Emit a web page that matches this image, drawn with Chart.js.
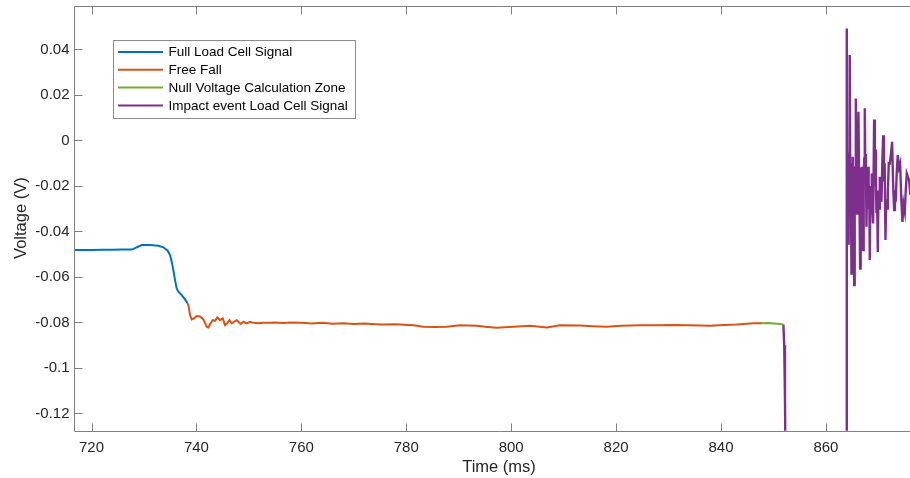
<!DOCTYPE html>
<html><head><meta charset="utf-8">
<script src="https://cdn.jsdelivr.net/npm/chart.js@4"></script>
<style>html,body{margin:0;padding:0;background:#fff;overflow:hidden;width:910px;height:478px}#c{display:block}</style>
</head><body>
<canvas id="c" width="924" height="478"></canvas>
<script>
// ---- data (Time in ms, Voltage in V) ----
const fullLoadTime = [716.7,718,720,722,724,726,727.66,728.61,729.56,731.15,732.74,733.7,734.52,734.97,735.28,735.6,735.92,736.24,736.56,737.19,737.83,738.27];
const fullLoadVolt = [-0.0482,-0.0482,-0.0482,-0.0481,-0.0481,-0.048,-0.048,-0.047,-0.046,-0.046,-0.0463,-0.047,-0.0485,-0.0504,-0.0533,-0.057,-0.0614,-0.0651,-0.0665,-0.068,-0.0699,-0.0714];

const freeFallTime = [738.27,738.46,738.78,739.1,739.54,740.05,740.69,741.32,741.96,742.28,742.6,743.1,743.55,743.99,744.5,745.01,745.46,745.9,746.28,746.73,747.17,747.68,748,748.44,748.95,749.59,750.22,750.86,751.81,752.76,754.03,755,756.5,758,760,762,764,766,768,770,772,775,778,781.35,783.26,785.5,787.7,790.26,793.44,795.5,797.25,800.43,803.6,806.8,809.3,813.1,815.5,818.2,821,824.6,827.5,830.9,834,837.9,840.5,843,846.2,847.8];
const freeFallVolt = [-0.0714,-0.0724,-0.0768,-0.0787,-0.0782,-0.0772,-0.0774,-0.0787,-0.0819,-0.0822,-0.0807,-0.079,-0.0793,-0.0778,-0.079,-0.0782,-0.0812,-0.0802,-0.079,-0.0804,-0.0797,-0.079,-0.0797,-0.0807,-0.0797,-0.0804,-0.0797,-0.0802,-0.0804,-0.0802,-0.0802,-0.08,-0.0803,-0.08,-0.0802,-0.0805,-0.0802,-0.0806,-0.0804,-0.0807,-0.0805,-0.0809,-0.0808,-0.0812,-0.0819,-0.082,-0.0819,-0.0812,-0.0815,-0.082,-0.0824,-0.0819,-0.0815,-0.0822,-0.0813,-0.0814,-0.0817,-0.0819,-0.0815,-0.0812,-0.0812,-0.0811,-0.0813,-0.0815,-0.0811,-0.0809,-0.0804,-0.0804];

const nullZoneTime = [847.8,849,850.2,851.3,851.9];
const nullZoneVolt = [-0.0804,-0.0803,-0.0805,-0.0807,-0.0809];

const impactTime = [851.9,852.05,852.2,852.35,863.85,863.98,864.06,864.14,864.23,864.34,864.44,864.55,864.65,864.74,864.87,864.96,865.04,865.12,865.21,865.29,865.38,865.49,865.59,865.7,865.79,865.87,865.95,866.03,866.11,866.2,866.31,866.41,866.52,866.63,866.73,866.84,866.93,867.01,867.09,867.2,867.3,867.41,867.52,867.62,867.73,867.84,867.94,868.05,868.15,868.26,868.36,868.49,868.61,868.74,868.87,869,869.19,869.32,869.4,869.51,869.64,869.76,869.89,870.02,870.14,870.27,870.43,870.59,870.75,870.91,871.05,871.2,871.35,871.5,871.65,871.8,871.98,872.18,872.4,872.62,872.8,873,873.16,873.32,873.5,873.7,873.92,874.15,874.37,874.59,874.8,875.04,875.22,875.42,875.64,875.86,876.1];
const impactVolt = [-0.0809,-0.09,-0.114,-0.16,-0.16,0.0492,-0.008,-0.03,-0.0453,-0.018,-0.006,0.0375,-0.022,-0.01,-0.0585,-0.028,-0.016,-0.0072,-0.03,-0.018,-0.0636,-0.026,-0.012,0.0184,-0.02,-0.008,-0.0321,-0.014,-0.024,0.0126,-0.012,-0.03,-0.0563,-0.024,-0.03,-0.0116,-0.026,-0.018,-0.0482,-0.02,-0.008,0.0141,-0.016,-0.006,-0.038,-0.02,-0.028,-0.0116,-0.03,-0.02,-0.0526,-0.022,-0.032,-0.0145,-0.03,-0.0365,0.0092,-0.012,-0.004,-0.0153,-0.032,-0.024,-0.049,-0.022,-0.03,-0.016,-0.022,-0.027,-0.01,0.0023,-0.018,-0.01,-0.0438,-0.026,-0.03,-0.0233,-0.01,-0.0101,-0.006,-0.0006,-0.018,-0.0306,-0.022,-0.027,-0.014,-0.0065,-0.012,-0.0101,-0.026,-0.0358,-0.028,-0.0314,-0.022,-0.0145,-0.016,-0.0175,-0.024];

const seriesNames = ['Full Load Cell Signal','Free Fall','Null Voltage Calculation Zone','Impact event Load Cell Signal'];
const xTicks = [720,740,760,780,800,820,840,860];
const yTicks = [-0.12,-0.1,-0.08,-0.06,-0.04,-0.02,0,0.02,0.04];

const pts = (t, v) => t.map((x, i) => ({x, y: v[i]}));
const FONT = "'Liberation Sans', Arial, Helvetica, sans-serif";
const AXC = '#808080';

const axesPlugin = {
  id: 'matlabAxes',
  afterDatasetsDraw(chart) {
    const {ctx, chartArea: a, scales: {x, y}} = chart;
    ctx.save();
    ctx.strokeStyle = AXC; ctx.lineWidth = 1;
    ctx.beginPath();
    const L = Math.round(a.left) + 0.5, B = Math.round(a.bottom) + 0.5, T = Math.round(a.top) + 0.5, R = a.right;
    ctx.moveTo(L, T); ctx.lineTo(L, B); ctx.lineTo(R, B);
    ctx.moveTo(L, T); ctx.lineTo(R, T);
    const tl = 8;
    xTicks.forEach(v => { const px = Math.round(x.getPixelForValue(v)) + 0.5; ctx.moveTo(px, B); ctx.lineTo(px, B - tl); ctx.moveTo(px, T); ctx.lineTo(px, T + tl); });
    yTicks.forEach(v => { const py = Math.round(y.getPixelForValue(v)) + 0.5; ctx.moveTo(L, py); ctx.lineTo(L + tl, py); });
    ctx.stroke();
    ctx.restore();
  },
  afterDraw(chart) {
    const {ctx, chartArea: a} = chart;
    const bx = a.left + 39, by = a.top + 34, bw = 241.5, bh = 78;
    ctx.save();
    ctx.fillStyle = '#fff'; ctx.fillRect(bx, by, bw, bh);
    ctx.strokeStyle = '#8c8c8c'; ctx.lineWidth = 1;
    ctx.strokeRect(Math.round(bx) + 0.5, Math.round(by) + 0.5, Math.round(bw), Math.round(bh));
    ctx.font = '13.5px ' + FONT; ctx.textBaseline = 'middle'; ctx.fillStyle = '#000';
    chart.data.datasets.forEach((ds, i) => {
      const ry = by + 12.5 + i * 17.8;
      ctx.strokeStyle = ds.borderColor; ctx.lineWidth = 2;
      ctx.beginPath(); ctx.moveTo(bx + 5, ry); ctx.lineTo(bx + 50, ry); ctx.stroke();
      ctx.fillText(ds.label, bx + 55.5, ry + 0.5);
    });
    ctx.restore();
  }
};

const noPad = s => { s.paddingTop = 0; s.paddingBottom = 0; s.paddingLeft = 0; s.paddingRight = 0; };

new Chart(document.getElementById('c'), {
  type: 'line',
  data: {
    datasets: [
      {label: seriesNames[0], data: pts(fullLoadTime, fullLoadVolt), borderColor: '#0072BD'},
      {label: seriesNames[1], data: pts(freeFallTime, freeFallVolt), borderColor: '#D95319'},
      {label: seriesNames[2], data: pts(nullZoneTime, nullZoneVolt), borderColor: '#77AC30'},
      {label: seriesNames[3], data: pts(impactTime, impactVolt), borderColor: '#7E2F8E', borderWidth: 2.4}
    ]
  },
  options: {
    responsive: false, animation: false,
    layout: {padding: {left: 0, top: 5.5, right: 0, bottom: 0}},
    elements: {line: {borderWidth: 2, tension: 0, fill: false}, point: {radius: 0, hoverRadius: 0}},
    plugins: {legend: {display: false}, tooltip: {enabled: false}},
    events: [],
    scales: {
      x: {
        type: 'linear', min: 716.66, max: 878.7,
        afterBuildTicks: s => { s.ticks = xTicks.map(v => ({value: v})); },
        afterFit: s => { s.height = 47.3; noPad(s); },
        grid: {display: false, drawTicks: false}, border: {display: false},
        ticks: {autoSkip: false, maxRotation: 0, padding: 8, color: '#262626', font: {family: FONT, size: 15}, callback: v => String(v)},
        title: {display: true, text: 'Time (ms)', color: '#262626', font: {family: FONT, size: 16.5}, padding: {top: 0, bottom: 1}}
      },
      y: {
        type: 'linear', min: -0.1276, max: 0.0593,
        afterBuildTicks: s => { s.ticks = yTicks.map(v => ({value: v})); },
        afterFit: s => { s.width = 74; noPad(s); },
        grid: {display: false, drawTicks: false}, border: {display: false},
        ticks: {padding: 4.5, color: '#262626', font: {family: FONT, size: 15}, callback: v => String(+(+v).toFixed(2))},
        title: {display: true, text: 'Voltage (V)', color: '#262626', font: {family: FONT, size: 16.5}, padding: {top: 12, bottom: 0}}
      }
    }
  },
  plugins: [axesPlugin]
});
</script>
</body></html>
